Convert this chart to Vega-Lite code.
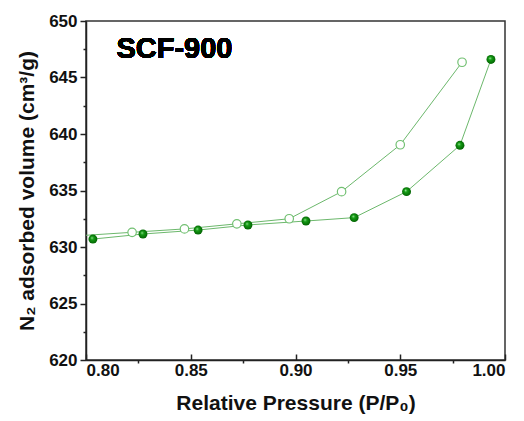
{
  "$schema": "https://vega.github.io/schema/vega-lite/v6.json",
  "width": 419,
  "height": 339,
  "autosize": {"type": "none"},
  "padding": {"left": 86, "top": 21, "right": 19, "bottom": 61},
  "config": {
    "view": {"stroke": "#333", "strokeWidth": 1.5},
    "axis": {"labelFont": "Liberation Sans", "labelFontWeight": "bold", "labelFontSize": 17, "labelColor": "#111", "titleFont": "Liberation Sans", "titleFontWeight": "bold", "titleFontSize": 21, "titleColor": "#111", "domainColor": "#222", "domainWidth": 1.5, "tickColor": "#222", "tickWidth": 1.5, "grid": false}
  },
  "data": {"values": [
    {"p": 0.8033, "v": 630.7, "branch": "ads"},
    {"p": 0.8272, "v": 631.15, "branch": "ads"},
    {"p": 0.8535, "v": 631.5, "branch": "ads"},
    {"p": 0.8773, "v": 631.95, "branch": "ads"},
    {"p": 0.905, "v": 632.3, "branch": "ads"},
    {"p": 0.928, "v": 632.6, "branch": "ads"},
    {"p": 0.953, "v": 634.9, "branch": "ads"},
    {"p": 0.9785, "v": 639.0, "branch": "ads"},
    {"p": 0.9933, "v": 646.6, "branch": "ads"},
    {"p": 0.797, "v": 631.0, "branch": "des"},
    {"p": 0.822, "v": 631.3, "branch": "des"},
    {"p": 0.847, "v": 631.6, "branch": "des"},
    {"p": 0.872, "v": 632.05, "branch": "des"},
    {"p": 0.897, "v": 632.5, "branch": "des"},
    {"p": 0.922, "v": 634.9, "branch": "des"},
    {"p": 0.950, "v": 639.05, "branch": "des"},
    {"p": 0.9795, "v": 646.35, "branch": "des"}
  ]},
  "encoding": {
    "x": {"field": "p", "type": "quantitative", "scale": {"domain": [0.8, 1.0], "nice": false, "zero": false}, "axis": null},
    "y": {"field": "v", "type": "quantitative", "scale": {"domain": [620, 650], "nice": false, "zero": false}, "axis": null}
  },
  "layer": [
    {
      "mark": {"type": "rule", "opacity": 0},
      "encoding": {
        "x": {"field": "p", "type": "quantitative", "scale": {"domain": [0.8, 1.0], "nice": false, "zero": false},
          "axis": {"orient": "bottom", "title": "Relative Pressure (P/P₀)", "values": [0.8, 0.85, 0.9, 0.95, 1.0], "format": ".2f", "tickSize": -6, "labelPadding": 8, "titlePadding": 14}},
        "y": {"field": "v", "type": "quantitative", "scale": {"domain": [620, 650], "nice": false, "zero": false},
          "axis": {"orient": "left", "title": "N₂ adsorbed volume (cm³/g)", "values": [620, 625, 630, 635, 640, 645, 650], "tickSize": 6, "labelPadding": 3, "titlePadding": 11}}
      }
    },
    {
      "mark": {"type": "rule", "opacity": 0},
      "encoding": {
        "x": {"field": "p", "type": "quantitative", "scale": {"domain": [0.8, 1.0], "nice": false, "zero": false},
          "axis": {"orient": "bottom", "values": [0.825, 0.875, 0.925, 0.975], "labels": false, "domain": false, "tickSize": 3, "title": null}},
        "y": {"field": "v", "type": "quantitative", "scale": {"domain": [620, 650], "nice": false, "zero": false},
          "axis": {"orient": "left", "values": [622.5, 627.5, 632.5, 637.5, 642.5, 647.5], "labels": false, "domain": false, "tickSize": 3, "title": null}}
      }
    },
    {
      "transform": [{"filter": "datum.branch == 'des'"}],
      "mark": {"type": "line", "color": "#6cb86c", "strokeWidth": 1, "clip": true}
    },
    {
      "transform": [{"filter": "datum.branch == 'ads'"}],
      "mark": {"type": "line", "color": "#6cb86c", "strokeWidth": 1, "clip": true}
    },
    {
      "transform": [{"filter": "datum.branch == 'des'"}],
      "mark": {"type": "point", "shape": "circle", "size": 72, "filled": true, "fill": "#ffffff", "stroke": "#72c072", "strokeWidth": 1.2, "opacity": 1, "clip": true}
    },
    {
      "transform": [{"filter": "datum.branch == 'ads'"}],
      "mark": {"type": "point", "shape": "circle", "size": 80, "filled": true, "opacity": 1, "clip": true,
        "fill": {"gradient": "radial", "x1": 0.38, "y1": 0.35, "r1": 0, "x2": 0.5, "y2": 0.5, "r2": 0.55,
          "stops": [{"offset": 0, "color": "#b8f0b8"}, {"offset": 0.3, "color": "#16a016"}, {"offset": 1, "color": "#005c00"}]}}
    },
    {
      "mark": {"type": "text", "text": "SCF-900", "font": "Liberation Sans", "fontWeight": "bold", "fontSize": 29, "align": "left", "baseline": "alphabetic", "color": "#000"},
      "encoding": {"x": {"datum": 0.8145, "axis": null}, "y": {"datum": 646.7, "axis": null}}
    }
  ],
  "resolve": {"axis": {"x": "independent", "y": "independent"}}
}
